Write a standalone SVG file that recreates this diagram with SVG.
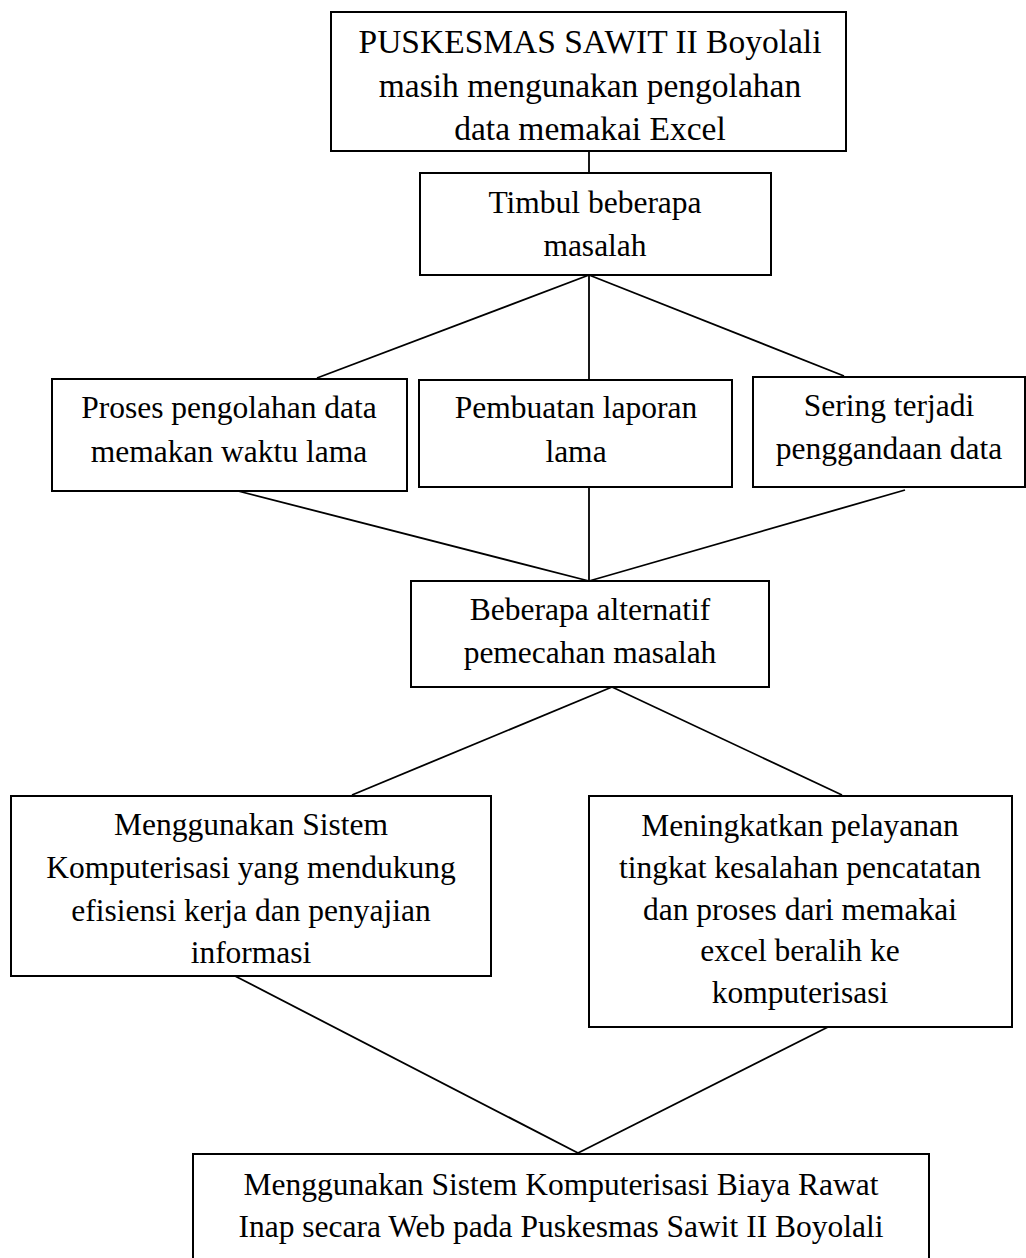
<svg xmlns="http://www.w3.org/2000/svg" width="1026" height="1258" viewBox="0 0 1026 1258">
<style>
.box{fill:#fff;stroke:#000;stroke-width:2}
.t{font-family:"Liberation Serif","Times New Roman",serif;font-size:31.5px;fill:#000;text-anchor:middle}
.t1{font-size:33.5px}
.ln{stroke:#000;stroke-width:1.8;fill:none}
</style>
<rect width="1026" height="1258" fill="#fff"/>
<g id="connectors">
<line class="ln" x1="589" y1="151" x2="589" y2="173"/>
<line class="ln" x1="589" y1="275" x2="317" y2="378"/>
<line class="ln" x1="589" y1="275" x2="589" y2="379"/>
<line class="ln" x1="589" y1="275" x2="844" y2="376"/>
<line class="ln" x1="238" y1="491" x2="589" y2="581"/>
<line class="ln" x1="589" y1="487" x2="589" y2="581"/>
<line class="ln" x1="905" y1="490" x2="589" y2="581"/>
<line class="ln" x1="612" y1="687" x2="352" y2="795"/>
<line class="ln" x1="612" y1="687" x2="842" y2="795"/>
<line class="ln" x1="235" y1="976" x2="578" y2="1153"/>
<line class="ln" x1="828" y1="1027" x2="578" y2="1153"/>
</g>
<g id="n1">
<rect class="box" x="331" y="12" width="515" height="139"/>
<text class="t t1" x="590" y="53">PUSKESMAS SAWIT II Boyolali</text>
<text class="t t1" x="590" y="97">masih mengunakan pengolahan</text>
<text class="t t1" x="590" y="140">data memakai Excel</text>
</g>
<g id="n2">
<rect class="box" x="420" y="173" width="351" height="102"/>
<text class="t" x="595" y="213">Timbul beberapa</text>
<text class="t" x="595" y="256">masalah</text>
</g>
<g id="n3">
<rect class="box" x="52" y="379" width="355" height="112"/>
<text class="t" x="229" y="418">Proses pengolahan data</text>
<text class="t" x="229" y="462">memakan waktu lama</text>
</g>
<g id="n4">
<rect class="box" x="419" y="380" width="313" height="107"/>
<text class="t" x="576" y="418">Pembuatan laporan</text>
<text class="t" x="576" y="462">lama</text>
</g>
<g id="n5">
<rect class="box" x="753" y="377" width="272" height="110"/>
<text class="t" x="889" y="416">Sering terjadi</text>
<text class="t" x="889" y="459">penggandaan data</text>
</g>
<g id="n6">
<rect class="box" x="411" y="581" width="358" height="106"/>
<text class="t" x="590" y="620">Beberapa alternatif</text>
<text class="t" x="590" y="663">pemecahan masalah</text>
</g>
<g id="n7">
<rect class="box" x="11" y="796" width="480" height="180"/>
<text class="t" x="251" y="835">Menggunakan Sistem</text>
<text class="t" x="251" y="878">Komputerisasi yang mendukung</text>
<text class="t" x="251" y="921">efisiensi kerja dan penyajian</text>
<text class="t" x="251" y="963">informasi</text>
</g>
<g id="n8">
<rect class="box" x="589" y="796" width="423" height="231"/>
<text class="t" x="800" y="836">Meningkatkan pelayanan</text>
<text class="t" x="800" y="878">tingkat kesalahan pencatatan</text>
<text class="t" x="800" y="920">dan proses dari memakai</text>
<text class="t" x="800" y="961">excel beralih ke</text>
<text class="t" x="800" y="1003">komputerisasi</text>
</g>
<g id="n9">
<rect class="box" x="193" y="1154" width="736" height="120"/>
<text class="t" x="561" y="1195">Menggunakan Sistem Komputerisasi Biaya Rawat</text>
<text class="t" x="561" y="1237">Inap secara Web pada Puskesmas Sawit II Boyolali</text>
</g>
</svg>
